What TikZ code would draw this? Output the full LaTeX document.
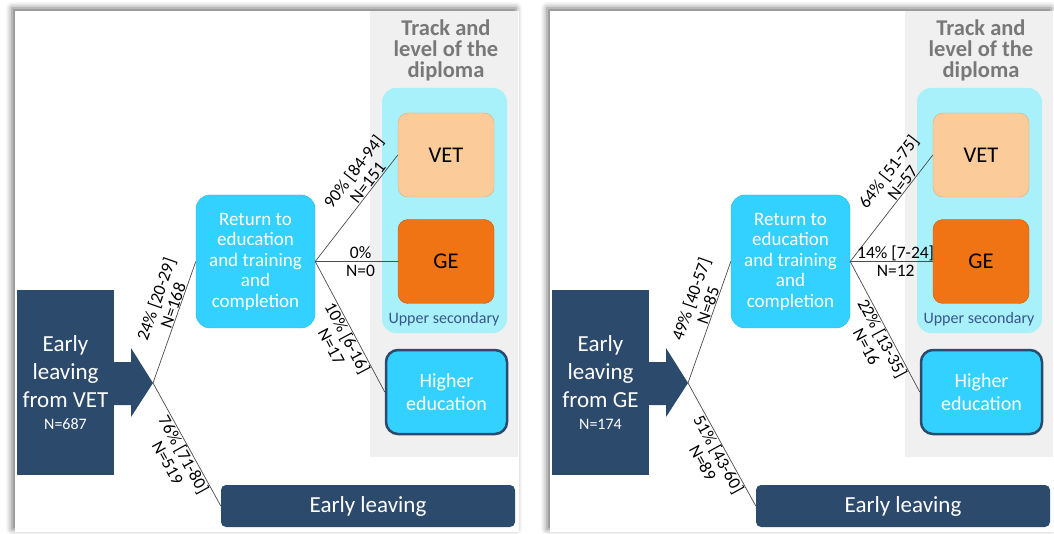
\documentclass[tikz,border=0pt]{standalone}
\usepackage{fontspec}
\setmainfont{Carlito}
\usetikzlibrary{shadows.blur}

\definecolor{navy}{RGB}{44,74,108}
\definecolor{skyblue}{RGB}{51,209,255}
\definecolor{skyedge}{RGB}{40,180,228}
\definecolor{upperbg}{RGB}{168,240,250}
\definecolor{colgray}{RGB}{240,240,240}
\definecolor{peach}{RGB}{251,203,153}
\definecolor{peachedge}{RGB}{228,172,112}
\definecolor{orangebox}{RGB}{240,116,20}
\definecolor{orangeedge}{RGB}{196,90,16}
\definecolor{titlegray}{RGB}{120,120,120}
\definecolor{uppertext}{RGB}{55,86,140}

\tikzset{
	navybox/.style={fill=navy, text=white, align=center, inner sep=0pt},
	retbox/.style={fill=skyblue, draw=skyedge, rounded corners=14pt, text=white, align=center,
		minimum width=119pt, minimum height=133pt, font=\fontsize{19}{20.5}\selectfont},
	vetbox/.style={fill=peach, draw=peachedge, rounded corners=10pt, minimum width=96pt,
		minimum height=84pt, font=\fontsize{22.5}{24}\selectfont},
	gebox/.style={vetbox, fill=orangebox, draw=orangeedge},
	hebox/.style={fill=skyblue, draw=navy, line width=2.5pt, rounded corners=12pt, text=white,
		align=center, minimum width=121pt, minimum height=84pt, font=\fontsize{20}{23}\selectfont},
	titletext/.style={text=titlegray, align=center, font=\bfseries\fontsize{22.5}{21}\selectfont},
	uppertag/.style={text=uppertext, font=\fontsize{16}{18}\selectfont},
	link/.style={draw=black!70, line width=0.7pt},
	lab/.style={align=center, inner sep=0.5pt, font=\fontsize{17.5}{18}\selectfont}
}

\begin{document}
\begin{tikzpicture}[x=1pt,y=-1pt]
	\useasboundingbox (0,0) rectangle (1054,534);
	\clip (0,0) rectangle (1054,534);
	
	% one panel: shift, prefix, source, total, then the five labels
	\def\panel#1#2#3#4#5#6#7#8#9{%
		\begin{scope}[shift={(#1,0)}]
			\fill[white, blur shadow={shadow xshift=-3pt, shadow yshift=3pt, shadow blur radius=6pt, shadow opacity=55}]
				(15,11) rectangle (519,532);
			\fill[colgray] (370,11) rectangle (518,457);
			\node[titletext] (#2title) at (446,50) {Track and\\level of the\\diploma};
			\fill[upperbg, rounded corners=14pt] (382,88) rectangle (507,333);
			\node[vetbox] (#2vet) at (446,155) {VET};
			\node[gebox] (#2ge) at (446,261.5) {GE};
			\node[uppertag] (#2upper) at (444,319) {Upper secondary};
			\node[hebox] (#2he) at (446.5,392) {Higher\\education};
			\node[retbox] (#2ret) at (255.5,261.5) {Return to\\education\\and training\\and\\completion};
			\node[navybox, minimum width=97pt, minimum height=184pt, font=\fontsize{23}{28}\selectfont]
				(#2src) at (65.5,382.5) {Early\\leaving\\from #3\\[-6pt]{\fontsize{16}{18}\selectfont N=#4}};
			\fill[navy] (114,362) -- (131,362) -- (131,348) -- (153,383) -- (131,417) -- (131,405) -- (114,405) -- cycle;
			\coordinate (#2tip) at (153,383);
			\node[navybox, rounded corners=5pt, minimum width=294pt, minimum height=42pt,
				font=\fontsize{23}{26}\selectfont] (#2bar) at (368,506) {Early leaving};
			
			% branches
			\draw[link] (#2tip) -- (#2ret.west) node[lab, above, sloped, pos=0.62] {#5};
			\draw[link] (#2tip) -- (#2bar.west) node[lab, below, sloped, pos=0.55] {#6};
			\draw[link] (#2ret.east) -- (#2vet.west) node[lab, above, sloped, pos=0.7] {#7};
			\draw[link] (#2ret.east) -- (#2ge.west) node[lab, pos=0.55] {#8};
			\draw[link] (#2ret.east) -- (#2he.west) node[lab, below, sloped, pos=0.56] {#9};
		\end{scope}}
	
	\panel{0}{l}{VET}{687}{24\% [20-29]\\N=168}{76\% [71-80]\\N=519}{90\% [84-94]\\N=151}{0\%\\N=0}{10\% [6-16]\\N=17}
	\panel{535}{r}{GE}{174}{49\% [40-57]\\N=85}{51\% [43-60]\\N=89}{64\% [51-75]\\N=57}{14\% [7-24]\\N=12}{22\% [13-35]\\N=16}
\end{tikzpicture}
\end{document}
